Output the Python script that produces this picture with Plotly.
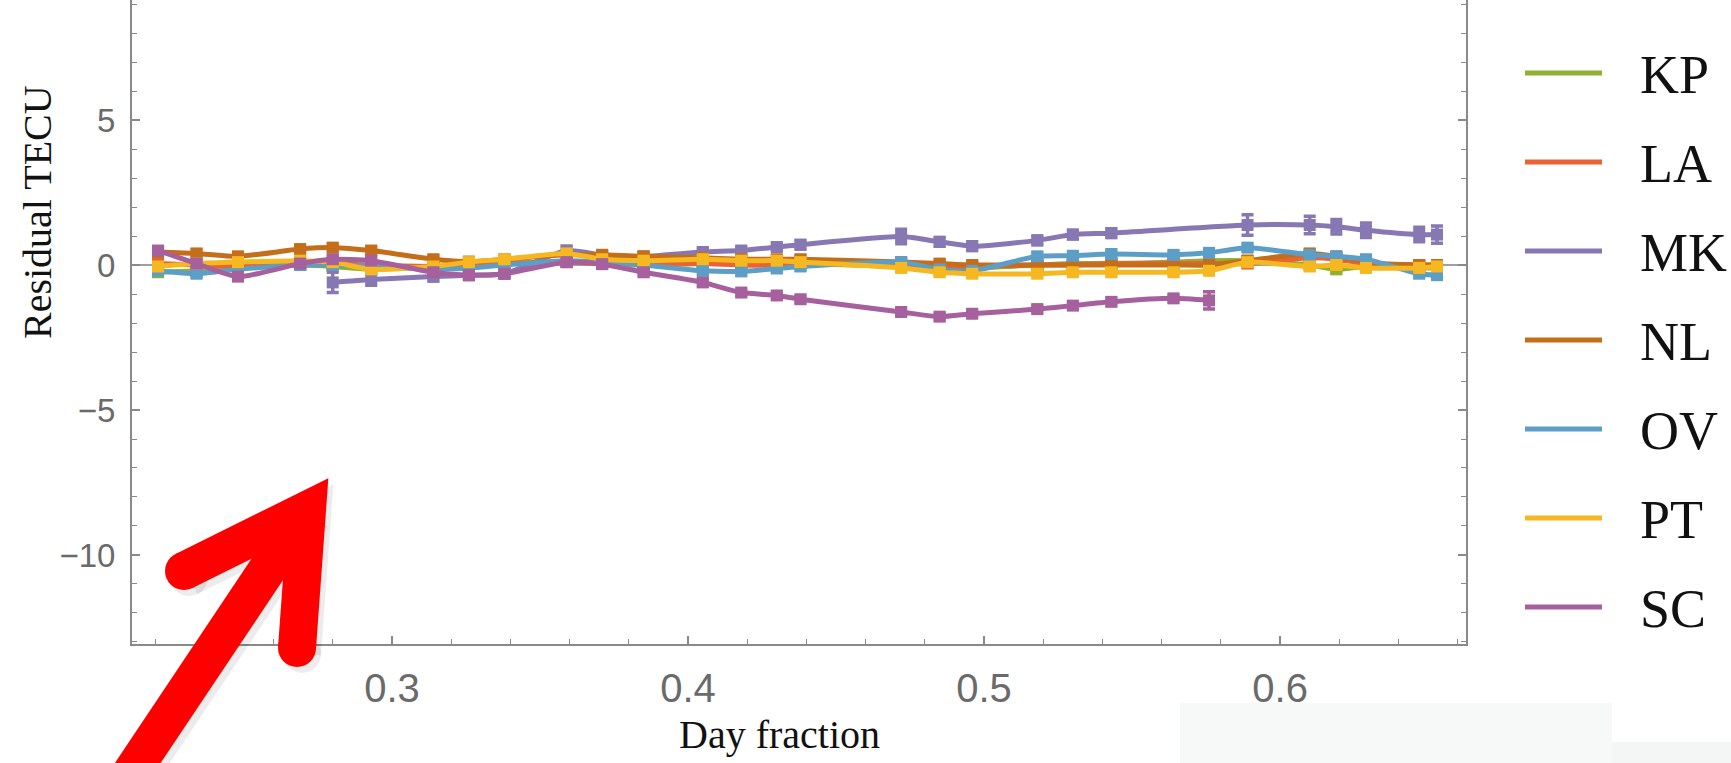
import plotly.graph_objects as go

# ---------------- data ----------------
day = [0.221, 0.234, 0.248, 0.269, 0.280, 0.293, 0.314, 0.326, 0.338, 0.359,
       0.371, 0.385, 0.405, 0.418, 0.430, 0.438, 0.472, 0.485, 0.496, 0.518,
       0.530, 0.543, 0.564, 0.576, 0.589, 0.610, 0.619, 0.629, 0.647, 0.653]

stations = ["KP", "LA", "MK", "NL", "OV", "PT", "SC"]
colors = ["#8FB032", "#EB6235", "#8778B3", "#C56E1A", "#5D9EC7", "#F5B821", "#A5609D"]

kp = [-0.25, -0.2, -0.1, 0.0, -0.05, -0.15, -0.05, 0.0, 0.05, 0.1,
      0.05, 0.0, 0.05, 0.05, 0.05, 0.05, -0.05, -0.1, -0.1, 0.0,
      0.05, 0.05, 0.1, 0.15, 0.15, 0.0, -0.15, -0.05, -0.1, -0.1]
la = [0.05, 0.0, -0.05, 0.0, 0.05, 0.0, -0.05, 0.0, 0.05, 0.1,
      0.05, 0.05, 0.05, 0.0, 0.0, 0.05, 0.0, -0.05, -0.05, 0.0,
      0.0, 0.05, 0.05, 0.05, 0.05, 0.25, 0.2, 0.05, 0.0, 0.0]
mk = [None, None, None, None, -0.6, -0.5, -0.4, -0.35, -0.3, 0.5,
      0.35, 0.3, 0.45, 0.5, 0.62, 0.7, 0.98, 0.8, 0.65, 0.85,
      1.05, 1.1, None, None, 1.38, 1.38, 1.32, 1.2, 1.05, 1.05]
nl = [0.45, 0.4, 0.3, 0.55, 0.6, 0.5, 0.2, 0.12, 0.2, 0.35,
      0.35, 0.3, 0.25, 0.2, 0.2, 0.2, 0.1, 0.05, 0.0, 0.0,
      0.0, 0.0, 0.0, 0.0, 0.15, 0.4, 0.3, 0.1, 0.0, 0.0]
ov = [-0.2, -0.3, -0.15, 0.0, 0.0, -0.05, -0.15, -0.1, 0.0, 0.15,
      0.1, 0.0, -0.2, -0.22, -0.12, -0.05, 0.1, -0.15, -0.2, 0.3,
      0.32, 0.38, 0.35, 0.42, 0.6, 0.35, 0.3, 0.2, -0.3, -0.35]
pt = [-0.05, 0.05, 0.1, 0.15, 0.1, -0.15, -0.05, 0.1, 0.2, 0.4,
      0.2, 0.15, 0.2, 0.15, 0.15, 0.1, -0.1, -0.25, -0.3, -0.3,
      -0.25, -0.25, -0.25, -0.2, 0.1, -0.05, 0.0, -0.1, -0.1, -0.05]
sc = [0.5, 0.05, -0.4, 0.05, 0.2, 0.15, -0.25, -0.35, -0.3, 0.1,
      0.03, -0.25, -0.6, -0.95, -1.05, -1.18, -1.62, -1.78, -1.68, -1.52,
      -1.4, -1.27, -1.15, -1.22]

err_default = 0.12
mk_err = [0, 0, 0, 0, 0.35, 0.2, 0.15, 0.15, 0.15, 0.15,
          0.12, 0.12, 0.12, 0.12, 0.12, 0.15, 0.25, 0.15, 0.15, 0.15,
          0.15, 0.15, 0, 0, 0.35, 0.3, 0.25, 0.25, 0.25, 0.3]
sc_err = [0.12] * 23 + [0.3]

series = [kp, la, mk, nl, ov, pt, sc]
errors = [None, None, mk_err, None, None, None, sc_err]

x_ticks = [0.3, 0.4, 0.5, 0.6]
y_ticks = [-10, -5, 0, 5]

# ---------------- figure ----------------
W, H = 1731, 763
ML, MR, MT, MB = 132, 265, 0, 119
PW, PH = W - ML - MR, H - MT - MB


def px(xp):
    return (xp - ML) / PW


def py(yp):
    return (H - MB - yp) / PH


fig = go.Figure()
for name, vals, col, err in zip(stations, series, colors, errors):
    xs = day[:len(vals)]
    e = err if err is not None else [err_default] * len(vals)
    fig.add_trace(go.Scatter(
        x=xs, y=vals, name=name, mode="lines+markers",
        connectgaps=True,
        line=dict(color=col, width=5, shape="spline", smoothing=0.6),
        marker=dict(symbol="square", size=12, color=col),
        error_y=dict(type="data", array=e, visible=True, color=col,
                     thickness=3.5, width=6),
        showlegend=False,
    ))

axis_col = "#8a8a8a"
tick_font = dict(family="Liberation Sans, Arial, sans-serif", color="#6a6a6a")

fig.update_xaxes(
    range=[0.2122, 0.6628], tickvals=x_ticks, ticktext=[str(v) for v in x_ticks],
    showgrid=False, zeroline=False, showline=True, linecolor=axis_col, linewidth=2,
    mirror=False, ticks="inside", ticklen=8, tickwidth=1.5, tickcolor=axis_col,
    minor=dict(dtick=0.02, tick0=0.2, ticks="inside", ticklen=5, tickcolor=axis_col, tickwidth=1.2),
    tickfont=dict(size=40, **tick_font), ticklabelstandoff=8,
)
fig.update_yaxes(
    range=[-13.07, 9.14], tickvals=y_ticks,
    showgrid=False, zeroline=True, zerolinecolor="#a0a0a0", zerolinewidth=1.5,
    showline=True, linecolor=axis_col, linewidth=2, mirror="ticks",
    ticks="inside", ticklen=8, tickwidth=1.5, tickcolor=axis_col,
    minor=dict(dtick=1, ticks="inside", ticklen=5, tickcolor=axis_col, tickwidth=1.2),
    tickfont=dict(size=33, **tick_font), ticklabelstandoff=8,
)

shapes = []
annotations = []

# axis titles
serif = "Liberation Serif, Times New Roman, serif"
annotations.append(dict(text="Residual TECU", xref="paper", yref="paper",
                        x=px(38), y=py(212), textangle=-90, showarrow=False,
                        xanchor="center", yanchor="middle",
                        font=dict(family=serif, size=40, color="#111")))
annotations.append(dict(text="Day fraction", xref="paper", yref="paper",
                        x=px(779), y=py(734), showarrow=False,
                        xanchor="center", yanchor="middle",
                        font=dict(family=serif, size=40, color="#111")))

# manual legend
leg_y0, leg_dy = 73, 89
for i, (name, col) in enumerate(zip(stations, colors)):
    yy = leg_y0 + i * leg_dy
    shapes.append(dict(type="line", xref="paper", yref="paper",
                       x0=px(1525), x1=px(1602), y0=py(yy), y1=py(yy),
                       line=dict(color=col, width=5)))
    annotations.append(dict(text=name, xref="paper", yref="paper",
                            x=px(1638), y=py(yy + 2), showarrow=False,
                            xanchor="left", yanchor="middle",
                            font=dict(family=serif, size=54, color="#111")))

# faint background patches (bottom right)
shapes.append(dict(type="rect", xref="paper", yref="paper", layer="below",
                   x0=px(1180), x1=px(1612), y0=py(763), y1=py(703),
                   line=dict(width=0), fillcolor="#f7f8f8"))
shapes.append(dict(type="rect", xref="paper", yref="paper", layer="below",
                   x0=px(1612), x1=px(1731), y0=py(763), y1=py(742),
                   line=dict(width=0), fillcolor="#f4f5f5"))


# red arrow (annotation graphic)
def path_str(points):
    return "M " + " L ".join(f"{px(a):.5f},{py(b):.5f}" for a, b in points)


vertex = (307, 510)
left_end = (184, 571)
right_end = (297, 648)
shaft_end = (113, 800)
aw = 38

for off, col, op in [((5, 6), "#000000", 0.07), ((0, 0), "#FF0000", 1.0)]:
    dx, dy = off
    pts_shaft = [(shaft_end[0] + dx, shaft_end[1] + dy), (vertex[0] + dx, vertex[1] + dy)]
    pts_head = [(left_end[0] + dx, left_end[1] + dy), (vertex[0] + dx, vertex[1] + dy),
                (right_end[0] + dx, right_end[1] + dy)]
    shapes.append(dict(type="path", xref="paper", yref="paper", path=path_str(pts_shaft),
                       line=dict(color=col, width=aw), opacity=op))
    shapes.append(dict(type="path", xref="paper", yref="paper", path=path_str(pts_head),
                       line=dict(color=col, width=aw), opacity=op))
    for cx, cy in [left_end, right_end]:
        r = aw / 2
        shapes.append(dict(type="circle", xref="paper", yref="paper",
                           x0=px(cx + dx - r), x1=px(cx + dx + r),
                           y0=py(cy + dy + r), y1=py(cy + dy - r),
                           line=dict(width=0), fillcolor=col, opacity=op))

fig.update_layout(
    width=W, height=H,
    margin=dict(l=ML, r=MR, t=MT, b=MB),
    paper_bgcolor="white", plot_bgcolor="rgba(0,0,0,0)",
    showlegend=False,
    shapes=shapes, annotations=annotations,
)

fig.write_html("out.html")
